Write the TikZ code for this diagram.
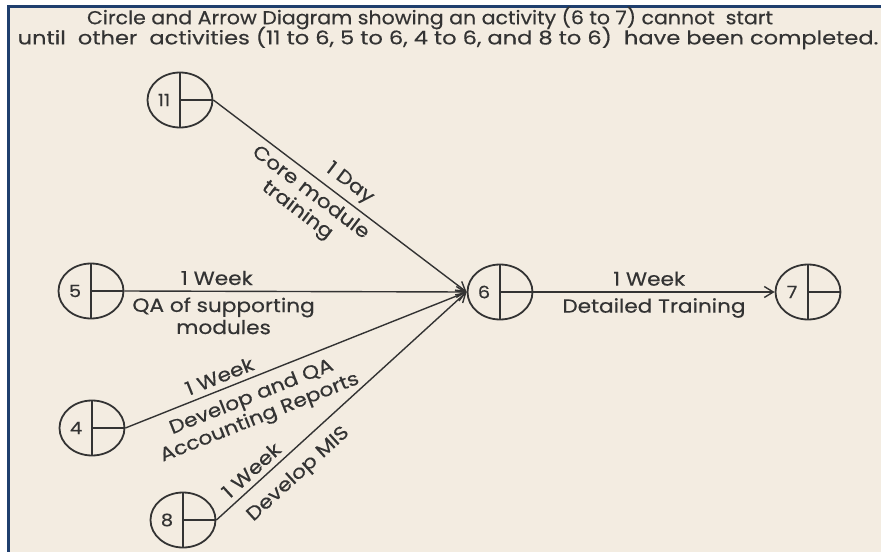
\documentclass[tikz,border=0pt]{standalone}
\usepackage{fontspec}
\setmainfont{Poppins}
\newfontfamily\labfont[FakeStretch=1.14,FakeBold=0.4]{Poppins}
\newfontfamily\headfont[FakeStretch=1.2,FakeBold=0.4]{Poppins}
\usetikzlibrary{shapes.geometric,arrows.meta}
\definecolor{paper}{HTML}{F3ECE1}
\definecolor{frameblue}{HTML}{1F3F6E}
\definecolor{ink}{HTML}{333333}
\begin{document}
\begin{tikzpicture}[x=1pt,y=-1pt,
  event/.style={ellipse,draw=ink,line width=1.8pt,minimum width=65pt,minimum height=55pt,inner sep=0pt,
    path picture={\draw[ink,line width=1.8pt] (path picture bounding box.north) -- (path picture bounding box.south);
                  \draw[ink,line width=1.8pt] (path picture bounding box.center) -- (path picture bounding box.east);}},
  num/.style={font=\labfont\fontsize{17}{17}\selectfont,text=ink,inner sep=0pt},
  act/.style={draw=ink,line width=1.4pt,-{Straight Barb[length=9pt,width=11pt,line width=1.4pt]}},
  lab/.style={font=\labfont\fontsize{19}{22}\selectfont,text=ink,sloped,align=center,inner sep=1.5pt},
  title/.style={font=\headfont\fontsize{18.8}{20}\selectfont,text=ink,inner sep=0pt}
]
\useasboundingbox (0,0) rectangle (881,552);
% page and window frame
\fill[white] (0,0) rectangle (881,552);
\fill[paper] (8,6) rectangle (881,552);
\draw[frameblue,line width=3pt] (7,6) -- (881,6);
\draw[frameblue,line width=3pt] (8,6) -- (8,552);

% heading
\node[title] (t1) at (430,18) {\scalebox{0.91}[1]{Circle and Arrow Diagram showing an activity (6 to 7) cannot\ \ start}};
\node[title] (t2) at (448,38) {until\ \ other\ \ activities (11 to 6, 5 to 6, 4 to 6, and 8 to 6)\ \ have been completed.};

% events
\node[event] (n11) at (180,100) {};
\node[event] (n5)  at (91,291) {};
\node[event] (n4)  at (92,428) {};
\node[event] (n8)  at (183,520) {};
\node[event] (n6)  at (500,292) {};
\node[event] (n7)  at (808,292) {};

\node[num] (l11) at ([xshift=-16pt]n11.center) {11};
\node[num] (l5)  at ([xshift=-16pt]n5.center) {5};
\node[num] (l4)  at ([xshift=-16pt]n4.center) {4};
\node[num] (l8)  at ([xshift=-16pt]n8.center) {8};
\node[num] (l6)  at ([xshift=-16pt]n6.center) {6};
\node[num] (l7)  at ([xshift=-16pt]n7.center) {7};

% activities
\draw[act] (n11.east) -- (n6.west)
  node[lab,pos=0.5,above=4pt] (d11a) {1 Day}
  node[lab,pos=0.42,below=4pt] (d11b) {Core module\\training};
\draw[act] (n5.east) -- (n6.west)
  node[lab,pos=0.27,above=4pt] (d5a) {1 Week}
  node[lab,pos=0.29,below=4pt] (d5b) {QA of supporting\\modules};
\draw[act] (n4.east) -- (n6.west)
  node[lab,pos=0.29,above=4pt] (d4a) {1 Week}
  node[lab,pos=0.35,below=7pt] (d4b) {Develop and QA\\Accounting Reports};
\draw[act] (n8.east) -- (n6.west)
  node[lab,pos=0.175,above=4pt] (d8a) {1 Week}
  node[lab,pos=0.27,below=10pt] (d8b) {Develop MIS};
\draw[act] (n6.east) -- (n7.west)
  node[lab,pos=0.48,above=4pt] (d6a) {1 Week}
  node[lab,pos=0.5,below=4pt] (d6b) {Detailed Training};
\end{tikzpicture}
\end{document}
